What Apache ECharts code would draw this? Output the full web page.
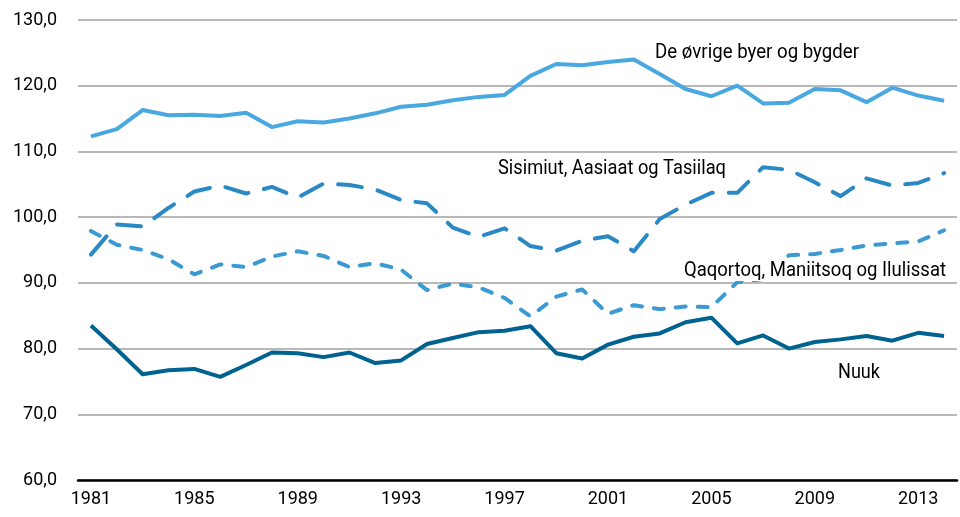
<!DOCTYPE html>
<html>
<head>
<meta charset="utf-8">
<script src="https://cdn.jsdelivr.net/npm/echarts@6/dist/echarts.min.js"></script>
<style>
  html, body { margin: 0; padding: 0; background: #fff; }
  #chart { width: 960px; height: 517px; }
</style>
</head>
<body>
<div id="chart"></div>
<script>
var years = [];
for (var y = 1981; y <= 2014; y++) years.push(String(y));

var ovrige = [112.3, 113.4, 116.3, 115.5, 115.6, 115.4, 115.9, 113.7, 114.6, 114.4, 115.0, 115.8, 116.8, 117.1, 117.8, 118.3, 118.6,
  121.5, 123.3, 123.1, 123.6, 124.0, 121.8, 119.5, 118.4, 120.0, 117.3, 117.4, 119.5, 119.3, 117.5, 119.7, 118.5, 117.7];
var sisimiut = [94.3, 98.9, 98.6, 101.4, 103.9, 104.8, 103.6, 104.6, 103.0, 105.1, 104.9, 104.2, 102.6, 102.1, 98.4, 97.0, 98.3,
  95.6, 94.9, 96.4, 97.1, 94.8, 99.7, 101.9, 103.7, 103.7, 107.6, 107.2, 105.3, 103.2, 105.9, 104.8, 105.2, 106.7];
var qaqortoq = [97.9, 95.8, 95.0, 93.6, 91.3, 92.8, 92.4, 94.0, 94.8, 94.1, 92.4, 93.0, 92.0, 88.9, 89.9, 89.3, 87.7,
  84.9, 87.9, 89.0, 85.3, 86.6, 86.0, 86.4, 86.3, 90.1, 90.6, 94.2, 94.4, 95.0, 95.7, 96.0, 96.3, 98.0];
var nuuk = [83.5, 79.9, 76.1, 76.7, 76.9, 75.7, 77.5, 79.4, 79.3, 78.7, 79.4, 77.8, 78.2, 80.7, 81.6, 82.5, 82.7,
  83.4, 79.3, 78.5, 80.6, 81.8, 82.3, 84.0, 84.7, 80.8, 82.0, 80.0, 81.0, 81.4, 81.9, 81.2, 82.4, 81.9];

var font = 'Roboto, sans-serif';

var myChart = echarts.init(document.getElementById('chart'));

function lineSeries(name, data, color, dash) {
    return {
        name: name,
        type: 'line',
        data: data,
        symbol: 'none',
        lineStyle: {
            color: color,
            width: 4,
            type: dash || 'solid',
            cap: dash ? 'round' : 'butt',
            join: 'round'
        }
    };
}

// no condensed font available, so squeeze the series labels horizontally
var ctx = document.createElement('canvas').getContext('2d');
ctx.font = '21px ' + font;
function squeezedText(text, x0, x1, cy) {
    var w = ctx.measureText(text).width;
    return {
        type: 'text', x: x0, y: cy, z: 100,
        scaleX: (x1 - x0) / w,
        style: { text: text, x: 0, y: 0, fill: '#000', font: '21px ' + font,
                 align: 'left', verticalAlign: 'middle' }
    };
}

var option = {
    animation: false,
    grid: { left: 78, right: 3, top: 20, bottom: 37 },
    xAxis: {
        type: 'category',
        data: years,
        boundaryGap: true,
        axisLine: { lineStyle: { color: '#000', width: 2.5 } },
        axisTick: { show: false },
        axisLabel: { interval: 3, margin: 10, fontSize: 18, fontFamily: font, color: '#000' }
    },
    yAxis: {
        type: 'value',
        min: 60,
        max: 130,
        interval: 10,
        axisLine: { show: false },
        axisTick: { show: false },
        splitLine: { lineStyle: { color: '#a0a0a0', width: 1.5 } },
        axisLabel: {
            margin: 21, fontSize: 18, fontFamily: font, color: '#000',
            formatter: function (v) { return v.toFixed(1).replace('.', ','); }
        }
    },
    series: [
        lineSeries('De øvrige byer og bygder', ovrige, '#4aa8e0'),
        lineSeries('Sisimiut, Aasiaat og Tasiilaq', sisimiut, '#2a89c5', [24, 16]),
        lineSeries('Qaqortoq, Maniitsoq og Ilulissat', qaqortoq, '#3b9ad4', [10, 12]),
        lineSeries('Nuuk', nuuk, '#00638f')
    ],
    graphic: [
        squeezedText('De øvrige byer og bygder', 655, 859, 53),
        squeezedText('Sisimiut, Aasiaat og Tasiilaq', 498, 726, 169),
        { type: 'rect', x: 682, y: 259, z: 99,
          shape: { x: 0, y: 0, width: 266, height: 22 }, style: { fill: '#fff' } },
        squeezedText('Qaqortoq, Maniitsoq og Ilulissat', 684, 946, 271),
        squeezedText('Nuuk', 838, 880, 373)
    ]
};

myChart.setOption(option);
</script>
</body>
</html>
